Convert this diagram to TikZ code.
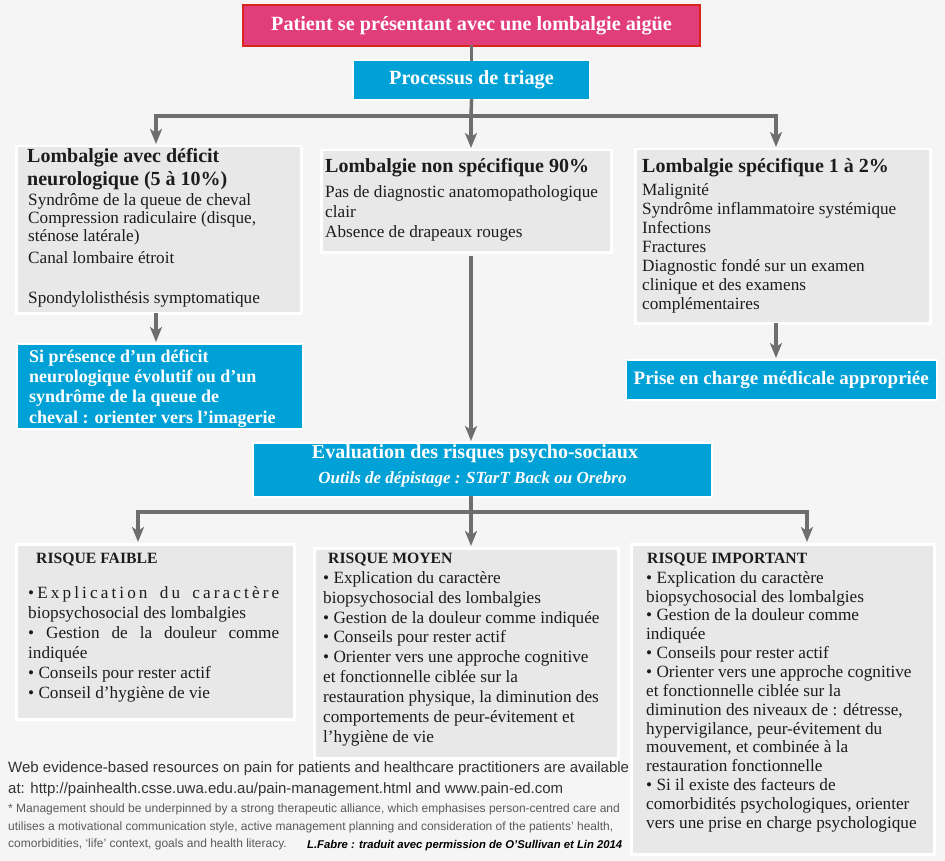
\documentclass[tikz,border=0pt]{standalone}
\usepackage{fontspec}
\setmainfont{Liberation Serif}
\newfontfamily\notefont{Liberation Sans}
\usetikzlibrary{calc, arrows.meta}

\definecolor{bggray}{HTML}{F5F5F5}
\definecolor{boxgray}{HTML}{E8E8E8}
\definecolor{triblue}{HTML}{00A1D6}
\definecolor{pinkfill}{HTML}{E23D7B}
\definecolor{redline}{HTML}{D9261C}
\definecolor{arrowgray}{HTML}{6E6E6E}
\definecolor{inkdark}{HTML}{1C1C1C}
\definecolor{notegray}{HTML}{5A5A5A}

\tikzset{
  panel/.style={fill=boxgray, draw=white, line width=2.5pt, inner sep=0pt, anchor=north west},
  alertbox/.style={fill=triblue, draw=white, line width=1.5pt, inner sep=0pt, text=white},
  headtext/.style={anchor=north west, inner sep=0pt, text width=300pt, align=flush left,
    text=inkdark, font=\fontsize{20}{23}\selectfont\bfseries,
    execute at begin node={\noindent\rule{0pt}{14.5pt}}},
  risktext/.style={anchor=north west, inner sep=0pt, text width=280pt, align=flush left,
    text=inkdark, font=\fontsize{15.7}{19}\selectfont\bfseries,
    execute at begin node={\noindent\rule{0pt}{11.5pt}}},
  listtext/.style={anchor=north west, inner sep=0pt, text width=290pt, align=flush left,
    text=inkdark, font=\fontsize{17.2}{#1}\selectfont,
    execute at begin node={\noindent\rule{0pt}{13pt}}},
  listtext/.default=19,
  link/.style={draw=arrowgray, line width=3.5pt, line cap=rect},
  flow/.style={link, -{Stealth[length=15pt, width=12pt, inset=4pt]}, shorten >=1pt},
}

\begin{document}
\begin{tikzpicture}[x=1pt, y=-1pt]
  \useasboundingbox (0,0) rectangle (945,861);
  \fill[bggray] (0,0) rectangle (945,861);

  % top of the chart
  \node[fill=pinkfill, draw=redline, line width=2pt, minimum width=457pt, minimum height=41pt,
    text=white, font=\fontsize{20.2}{24}\selectfont\bfseries] (patient) at (471.5,25.5)
    {Patient se présentant avec une lombalgie aigüe};
  \node[alertbox, minimum width=237pt, minimum height=40pt,
    font=\fontsize{20.2}{24}\selectfont\bfseries] (triage) at (471.5,80) {Processus de triage};

  \coordinate (fork1) at (471,116);
  \coordinate (fork1L) at (156,116);
  \coordinate (fork1R) at (776,116);

  % three kinds of low back pain
  \node[panel, minimum width=285pt, minimum height=167pt] (neuro) at (15,145) {};
  \node[headtext] (neurohead) at (27,147.5) {Lombalgie avec déficit\\neurologique (5 à 10\%)};
  \node[listtext=18] (neurolist) at (28,192)
    {Syndrôme de la queue de cheval\\Compression radiculaire (disque,\\sténose latérale)\\[4pt]
     Canal lombaire étroit\\[22pt]Spondylolisthésis symptomatique};

  \node[panel, minimum width=290pt, minimum height=102pt] (nonspec) at (320,149) {};
  \node[headtext] (nonspechead) at (325,157.5) {Lombalgie non spécifique 90\%};
  \node[listtext=20] (nonspeclist) at (325,184)
    {Pas de diagnostic anatomopathologique\\clair\\Absence de drapeaux rouges};

  \node[panel, minimum width=295pt, minimum height=174pt] (spec) at (634,148) {};
  \node[headtext] (spechead) at (642,157.5) {Lombalgie spécifique 1 à 2\%};
  \node[listtext=19] (speclist) at (642,182)
    {Malignité\\Syndrôme inflammatoire systémique\\Infections\\Fractures\\
     Diagnostic fondé sur un examen\\clinique et des examens\\complémentaires};

  \node[alertbox, anchor=north west, minimum width=286pt, minimum height=85pt] (imaging) at (16,343) {};
  \node[anchor=north west, inner sep=0pt, text width=280pt, align=flush left, text=white,
    font=\fontsize{18}{20.3}\selectfont\bfseries,
    execute at begin node={\noindent\rule{0pt}{13pt}}] (imagingtext) at (29,349)
    {Si présence d’un déficit\\neurologique évolutif ou d’un\\syndrôme de la queue de\\cheval : orienter vers l’imagerie};

  \node[alertbox, anchor=north west, minimum width=311pt, minimum height=40pt,
    font=\fontsize{19}{22}\selectfont\bfseries] (medical) at (625,359) {Prise en charge médicale appropriée};

  % screening
  \node[alertbox, anchor=north west, minimum width=459pt, minimum height=54pt] (evalrisk) at (252,442) {};
  \node[anchor=base, inner sep=0pt, text=white, font=\fontsize{20}{24}\selectfont\bfseries]
    (evaltitle) at (475,458) {Evaluation des risques psycho-sociaux};
  \node[anchor=base, inner sep=0pt, text=white, font=\fontsize{17}{20}\selectfont\bfseries\itshape]
    (evaltools) at (472.5,483) {Outils de dépistage : STarT Back ou Orebro};

  \coordinate (fork2) at (471,512);
  \coordinate (fork2L) at (138,512);
  \coordinate (fork2R) at (807,512);

  % risk levels
  \node[panel, minimum width=278pt, minimum height=175pt] (low) at (15,543) {};
  \node[risktext] (lowhead) at (36,551.5) {RISQUE FAIBLE};
  \node[listtext=20, text width=251pt] (lowlist) at (28,585)
    {{\addfontfeature{LetterSpace=18}\textbullet Explication\hfill du\hfill caractère}\\
     biopsychosocial des lombalgies\\
     \textbullet\hfill Gestion\hfill de\hfill la\hfill douleur\hfill comme\\
     indiquée\\
     \textbullet{} Conseils pour rester actif\\
     \textbullet{} Conseil d’hygiène de vie};

  \node[panel, minimum width=304pt, minimum height=210pt] (mid) at (313,547) {};
  \node[risktext] (midhead) at (328,551.5) {RISQUE MOYEN};
  \node[listtext=19.9] (midlist) at (323,570)
    {\textbullet{} Explication du caractère\\
     biopsychosocial des lombalgies\\
     \textbullet{} Gestion de la douleur comme indiquée\\
     \textbullet{} Conseils pour rester actif\\
     \textbullet{} Orienter vers une approche cognitive\\
     et fonctionnelle ciblée sur la\\
     restauration physique, la diminution des\\
     comportements de peur-évitement et\\
     l’hygiène de vie};

  \node[panel, minimum width=303pt, minimum height=310pt] (high) at (630,543) {};
  \node[risktext] (highhead) at (647,551.5) {RISQUE IMPORTANT};
  \node[listtext=18.85] (highlist) at (646,570)
    {\textbullet{} Explication du caractère\\
     biopsychosocial des lombalgies\\
     \textbullet{} Gestion de la douleur comme\\
     indiquée\\
     \textbullet{} Conseils pour rester actif\\
     \textbullet{} Orienter vers une approche cognitive\\
     et fonctionnelle ciblée sur la\\
     diminution des niveaux de : détresse,\\
     hypervigilance, peur-évitement du\\
     mouvement, et combinée à la\\
     restauration fonctionnelle\\
     \textbullet{} Si il existe des facteurs de\\
     comorbidités psychologiques, orienter\\
     vers une prise en charge psychologique};

  % connectors
  \draw[link] (patient) -- (triage);
  \draw[link] (triage.south) -- (fork1);
  \draw[link] (fork1L) -- (fork1R);
  \draw[flow] (fork1L) -- (fork1L |- neuro.north);
  \draw[flow] (fork1) -- (nonspec.north -| fork1);
  \draw[flow] (fork1R) -- (fork1R |- spec.north);
  \draw[flow] (neuro.south -| fork1L) -- (imaging.north -| fork1L);
  \draw[flow] (spec.south -| fork1R) -- (medical.north -| fork1R);
  \draw[flow, shorten <=4pt] (nonspec.south -| fork1) -- (evalrisk.north -| fork1);
  \draw[link] (evalrisk.south -| fork2) -- (fork2);
  \draw[link] (fork2L) -- (fork2R);
  \draw[flow] (fork2L) -- (fork2L |- low.north);
  \draw[flow] (fork2) -- (mid.north -| fork2);
  \draw[flow] (fork2R) -- (fork2R |- high.north);

  % footer
  \node[anchor=north west, inner sep=0pt, text width=700pt, align=flush left, text=inkdark!90,
    font=\notefont\fontsize{15}{21}\selectfont,
    execute at begin node={\noindent\rule{0pt}{11.5pt}}] (webnote) at (8,760.5)
    {Web evidence-based resources on pain for patients and healthcare practitioners are available\\
     at: http://painhealth.csse.uwa.edu.au/pain-management.html and www.pain-ed.com};
  \node[anchor=north west, inner sep=0pt, text width=700pt, align=flush left, text=notegray,
    font=\notefont\fontsize{12}{17.5}\selectfont,
    execute at begin node={\noindent\rule{0pt}{9.5pt}}] (mgmtnote) at (8,803)
    {* Management should be underpinned by a strong therapeutic alliance, which emphasises person-centred care and\\
     utilises a motivational communication style, active management planning and consideration of the patients’ health,\\
     comorbidities, ‘life’ context, goals and health literacy.};
  \node[anchor=base west, inner sep=0pt, text=black, font=\notefont\fontsize{11.3}{14}\selectfont\bfseries\itshape]
    (credit) at (307,848) {L.Fabre : traduit avec permission de O’Sullivan et Lin 2014};
\end{tikzpicture}
\end{document}
